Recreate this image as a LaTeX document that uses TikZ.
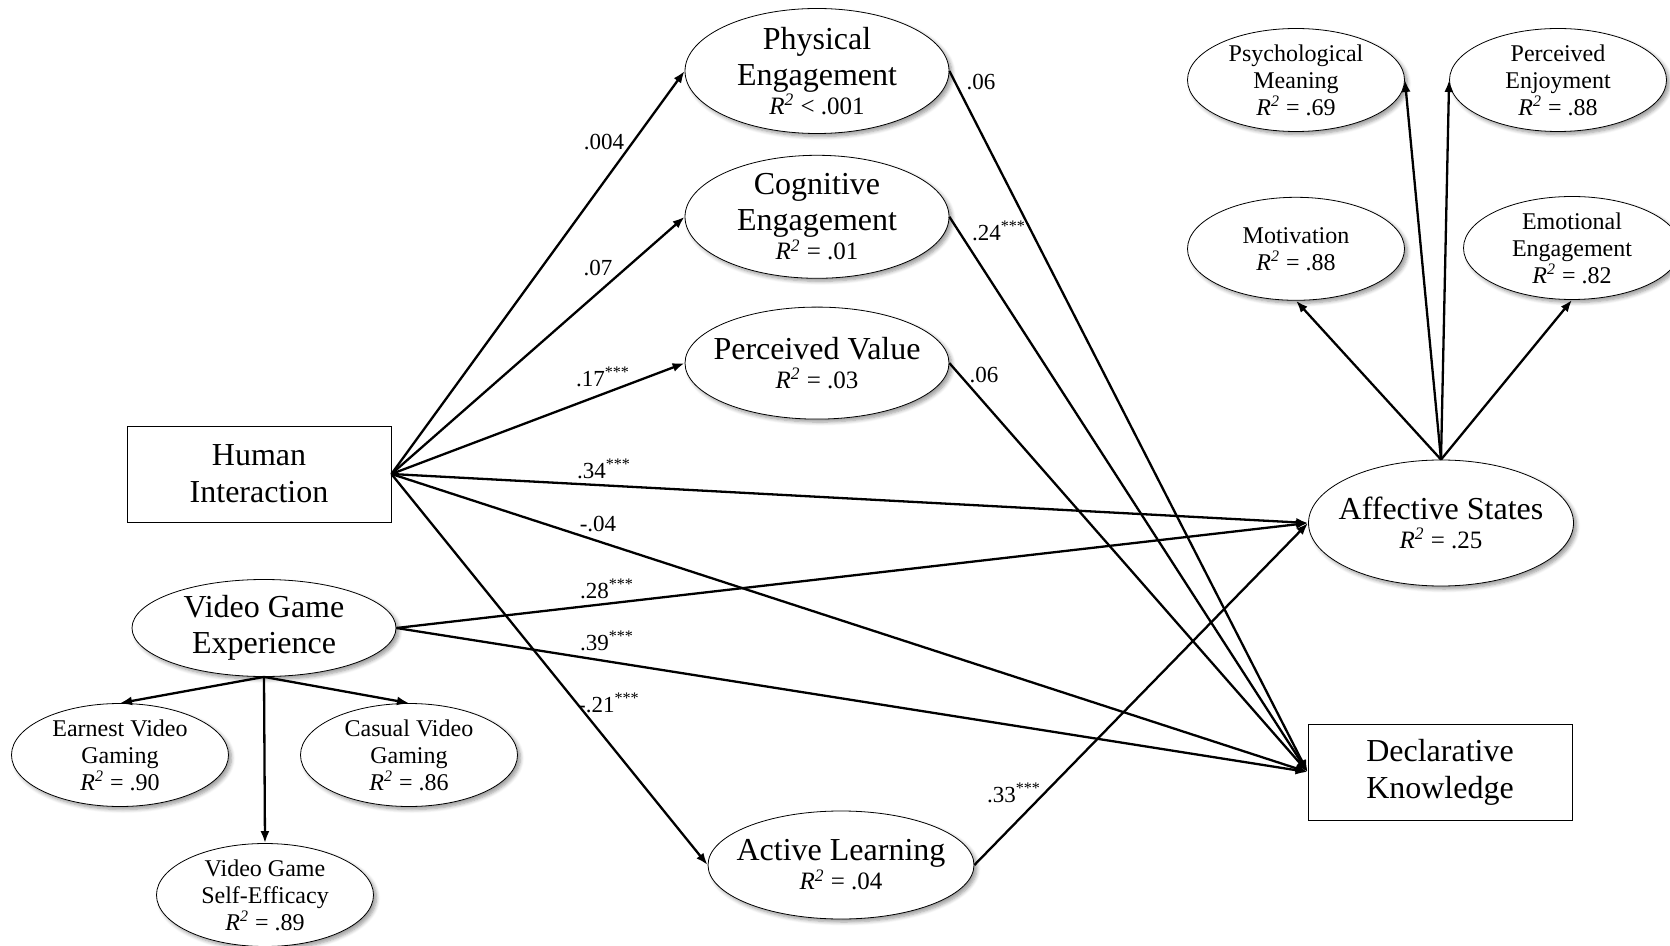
\documentclass[tikz,border=0pt]{standalone}
\usepackage{fontspec}
\setmainfont{Liberation Serif}
\usetikzlibrary{shapes.geometric,arrows.meta,positioning,shadows.blur}
\newcommand{\rsq}[1]{\textit{R\textsuperscript{2}}~#1}
\newcommand{\rsqb}[1]{{\fontsize{12.5}{14}\selectfont\rsq{#1}}}
\newcommand{\sig}{\textsuperscript{***}}

\begin{document}
\begin{tikzpicture}[
    x=0.5pt, y=-0.5pt,
    lat/.style={ellipse, draw, thin, fill=white, inner sep=-20pt, align=center, font=\fontsize{16}{18}\selectfont, blur shadow={shadow xshift=1.5pt, shadow yshift=-1.5pt, shadow blur steps=6}},
    ind/.style={lat, font=\fontsize{12}{13.5}\selectfont, minimum width=108.5pt, minimum height=51.5pt},
    obs/.style={rectangle, draw, thin, align=center, font=\fontsize{16}{18.5}\selectfont, minimum width=132pt, minimum height=48pt},
    arrow/.style={-{Latex[length=6pt,width=4.5pt]}, line width=1.15pt},
    coef/.style={font=\fontsize{11.5}{13}\selectfont, inner sep=0pt}
]
  \useasboundingbox (0,0) rectangle (1670,946);

  % Predictors
  \node[obs] (hi) at (259,474) {Human\\Interaction};
  \node[lat, minimum width=132pt, minimum height=48.5pt] (vge) at (264,628) {Video Game\\Experience};
  \node[ind] (earn) at (120,755) {Earnest Video\\Gaming\\\rsq{= .90}};
  \node[ind] (casu) at (409,755) {Casual Video\\Gaming\\\rsq{= .86}};
  \node[ind] (self) at (265,895) {Video Game\\Self-Efficacy\\\rsq{= .89}};

  % Mediators
  \node[lat, minimum width=132pt, minimum height=62.5pt] (phys) at (817,71) {Physical\\Engagement\\[-3.5pt]\rsqb{< .001}};
  \node[lat, minimum width=132pt, minimum height=61.5pt, below=10.5pt of phys] (cogn) {Cognitive\\Engagement\\[-3.5pt]\rsqb{= .01}};
  \node[lat, minimum width=132pt, minimum height=56pt, below=14pt of cogn] (pval) {Perceived Value\\[-3.5pt]\rsqb{= .03}};
  \node[lat, minimum width=133pt, minimum height=54pt] (actl) at (841,865) {Active Learning\\[-3.5pt]\rsqb{= .04}};

  % Outcomes
  \node[lat, minimum width=132.5pt, minimum height=63pt] (aff) at (1441,523) {Affective States\\[-3.5pt]\rsqb{= .25}};
  \node[obs] (dk) at (1440,772) {Declarative\\Knowledge};
  \node[ind] (psym) at (1296,80) {Psychological\\Meaning\\\rsq{= .69}};
  \node[ind] (penj) at (1558,80) {Perceived\\Enjoyment\\\rsq{= .88}};
  \node[ind, below=32.5pt of psym] (moti) {Motivation\\\rsq{= .88}};
  \node[ind] (emot) at (1572,248) {Emotional\\Engagement\\\rsq{= .82}};

  % Paths
  \draw[arrow] (hi.east) -- (phys.west);
  \draw[arrow] (hi.east) -- (cogn.west);
  \draw[arrow] (hi.east) -- (pval.west);
  \draw[arrow] (hi.east) -- (aff.west);
  \draw[arrow] (hi.east) -- (dk.west);
  \draw[arrow] (hi.east) -- (actl.west);
  \draw[arrow] (vge.east) -- (aff.west);
  \draw[arrow] (vge.east) -- (dk.west);
  \draw[arrow] (phys.east) -- (dk.west);
  \draw[arrow] (cogn.east) -- (dk.west);
  \draw[arrow] (pval.east) -- (dk.west);
  \draw[arrow] (actl.east) -- (aff.west);

  % Measurement
  \draw[arrow] (vge.south) -- (earn.north);
  \draw[arrow] (vge.south) -- (casu.north);
  \draw[arrow] (vge.south) -- (self.north);
  \draw[arrow] (aff.north) -- (psym.east);
  \draw[arrow] (aff.north) -- (penj.west);
  \draw[arrow] (aff.north) -- (moti.south);
  \draw[arrow] (aff.north) -- (emot.south);

  % Coefficients
  \node[coef] (bphys) at (604,142) {.004};
  \node[coef] (bcogn) at (598,268) {.07};
  \node[coef] (bpval) at (603,377) {.17\sig};
  \node[coef] (bhiaff) at (604,469) {.34\sig};
  \node[coef] (bhidk) at (598,524) {-.04};
  \node[coef] (bvgeaff) at (607,589) {.28\sig};
  \node[coef] (bvgedk) at (607,641) {.39\sig};
  \node[coef] (bactl) at (609,703) {-.21\sig};
  \node[coef] (bphysdk) at (981,82) {.06};
  \node[coef] (bcogndk) at (999,231) {.24\sig};
  \node[coef] (bpvaldk) at (984,375) {.06};
  \node[coef] (bactlaff) at (1014,793) {.33\sig};
\end{tikzpicture}
\end{document}
